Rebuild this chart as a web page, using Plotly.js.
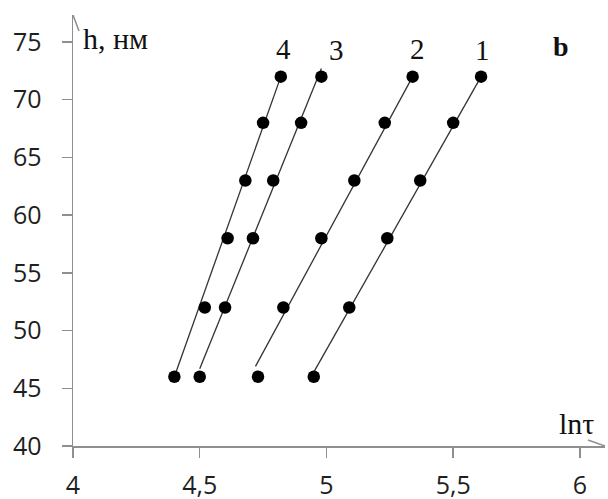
<!DOCTYPE html>
<html>
<head>
<meta charset="utf-8">
<script src="https://cdn.plot.ly/plotly-3.0.1.min.js"></script>
<style>html,body{margin:0;padding:0;background:#fff;}#chart{width:608px;height:499px;}</style>
</head>
<body>
<div id="chart"></div>
<script>
// Data
const hValues = [46, 52, 58, 63, 68, 72];
const series1X = [4.95, 5.09, 5.24, 5.37, 5.50, 5.61];
const series2X = [4.73, 4.83, 4.98, 5.11, 5.23, 5.34];
const series3X = [4.50, 4.60, 4.71, 4.79, 4.90, 4.98];
const series4X = [4.40, 4.52, 4.61, 4.68, 4.75, 4.82];
// Fitted straight lines (endpoints)
const fit1X = [4.95, 5.61], fit1Y = [46.4, 72];
const fit2X = [4.72, 5.34], fit2Y = [46.9, 72];
const fit3X = [4.50, 4.98], fit3Y = [46.7, 72.7];
const fit4X = [4.40, 4.82], fit4Y = [46, 72];
const seriesLabels = ['1', '2', '3', '4'];
const xTickVals = [4, 4.5, 5, 5.5, 6];
const xTickText = ['4', '4,5', '5', '5,5', '6'];
const yTickVals = [40, 45, 50, 55, 60, 65, 70, 75];
const yTickText = ['40', '45', '50', '55', '60', '65', '70', '75'];

const allSeriesX = [series1X, series2X, series3X, series4X];
const fits = [[fit1X, fit1Y], [fit2X, fit2Y], [fit3X, fit3Y], [fit4X, fit4Y]];

const traces = [];
fits.forEach(f => traces.push({
  x: f[0], y: f[1], type: 'scatter', mode: 'lines',
  line: {color: '#333', width: 1.3}, hoverinfo: 'skip', showlegend: false
}));
allSeriesX.forEach(xs => traces.push({
  x: xs, y: hValues, type: 'scatter', mode: 'markers',
  marker: {color: '#000', size: 12.5}, showlegend: false
}));

const axisColor = '#8f8f8f';
const xMax = 6.099, yMax = 77.34;
const tickFont = {family: '"Open Sans", sans-serif', size: 25, color: '#1f1f1f'};
const serif = '"Liberation Serif", "DejaVu Serif", serif';

const layout = {
  width: 608, height: 499,
  margin: {l: 73, r: 3, t: 15, b: 53},
  paper_bgcolor: '#fff', plot_bgcolor: '#fff',
  showlegend: false,
  xaxis: {
    range: [4, xMax], tickvals: xTickVals, ticktext: xTickText,
    showgrid: false, zeroline: false, showline: true, linecolor: axisColor, linewidth: 1.5,
    ticks: 'outside', ticklen: 10, tickwidth: 1.5, tickcolor: axisColor,
    tickfont: tickFont, ticklabelstandoff: 6
  },
  yaxis: {
    range: [40, yMax], tickvals: yTickVals, ticktext: yTickText,
    showgrid: false, zeroline: false, showline: true, linecolor: axisColor, linewidth: 1.5,
    ticks: 'outside', ticklen: 10, tickwidth: 1.5, tickcolor: axisColor,
    tickfont: tickFont, ticklabelstandoff: 15
  },
  shapes: [
    // x-axis arrow head
    {type: 'line', xref: 'x', yref: 'y', x0: xMax, y0: 40, x1: xMax - 17/253.5, y1: 40 + 6/11.54, line: {color: axisColor, width: 1.5}},
    {type: 'line', xref: 'x', yref: 'y', x0: xMax, y0: 40, x1: xMax - 17/253.5, y1: 40 - 6/11.54, line: {color: axisColor, width: 1.5}},
    // y-axis arrow head
    {type: 'line', xref: 'x', yref: 'y', x0: 4, y0: yMax, x1: 4 - 6/253.5, y1: yMax - 16/11.54, line: {color: axisColor, width: 1.5}},
    {type: 'line', xref: 'x', yref: 'y', x0: 4, y0: yMax, x1: 4 + 6/253.5, y1: yMax - 16/11.54, line: {color: axisColor, width: 1.5}}
  ],
  annotations: [
    {text: 'h, нм', xref: 'paper', yref: 'paper', x: 8/532, y: (446-38)/431, xanchor: 'left', yanchor: 'middle', showarrow: false, font: {family: serif, size: 30, color: '#111'}},
    {text: 'ln\u03c4', xref: 'paper', yref: 'paper', x: (576-73)/532, y: (446-423)/431, xanchor: 'center', yanchor: 'middle', showarrow: false, font: {family: serif, size: 30, color: '#111'}},
    {text: '<b>b</b>', xref: 'paper', yref: 'paper', x: (561-73)/532, y: (446-46)/431, xanchor: 'center', yanchor: 'middle', showarrow: false, font: {family: serif, size: 28, color: '#111'}},
    {text: seriesLabels[0], xref: 'paper', yref: 'paper', x: (482-73)/532, y: (446-50)/431, xanchor: 'center', yanchor: 'middle', showarrow: false, font: {family: serif, size: 29, color: '#111'}},
    {text: seriesLabels[1], xref: 'paper', yref: 'paper', x: (417-73)/532, y: (446-49)/431, xanchor: 'center', yanchor: 'middle', showarrow: false, font: {family: serif, size: 29, color: '#111'}},
    {text: seriesLabels[2], xref: 'paper', yref: 'paper', x: (336-73)/532, y: (446-50)/431, xanchor: 'center', yanchor: 'middle', showarrow: false, font: {family: serif, size: 29, color: '#111'}},
    {text: seriesLabels[3], xref: 'paper', yref: 'paper', x: (283-73)/532, y: (446-49)/431, xanchor: 'center', yanchor: 'middle', showarrow: false, font: {family: serif, size: 29, color: '#111'}}
  ]
};

Plotly.newPlot('chart', traces, layout, {displayModeBar: false, staticPlot: true});
</script>
</body>
</html>
